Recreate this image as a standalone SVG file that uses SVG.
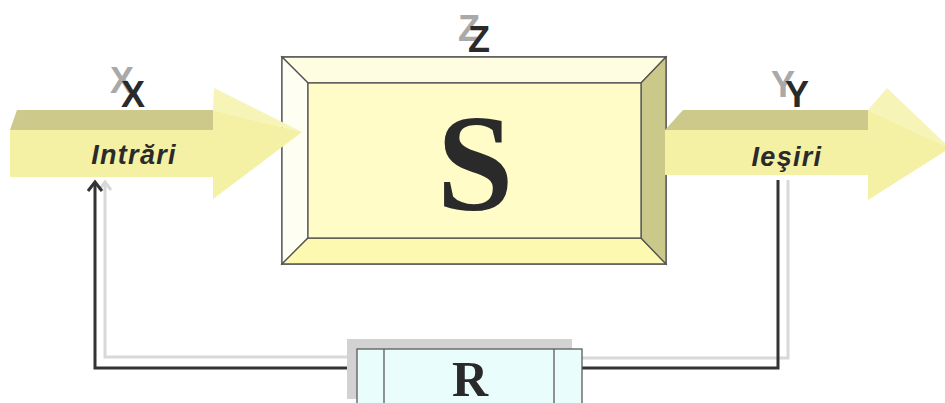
<svg xmlns="http://www.w3.org/2000/svg" width="945" height="403" viewBox="0 0 945 403">
<defs>
<style>
.front{fill:#f4f1a4}
.band{fill:#ccc98b}
.headtop{fill:#f6f4b6}
.lbl{font-family:"Liberation Sans",Arial,sans-serif;font-weight:bold;font-style:italic;font-size:27px;fill:#2a2a2a;letter-spacing:1.3px}
.var{font-family:"Liberation Sans",Arial,sans-serif;font-weight:bold;font-size:36px}
.dk{fill:#2a2a2a}
.lt{fill:#a9a9a9}
.dline{fill:none;stroke:#333;stroke-width:3}
.gline{fill:none;stroke:#d8d8d8;stroke-width:3}
.edge{stroke:#555;stroke-width:1.3}
</style>
</defs>
<rect width="945" height="403" fill="#fff"/>

<g id="connectors">
<polyline class="gline" points="347,357 105,357 105,182"/>
<polyline class="gline" points="99,190 105,182 111,190"/>
<polyline class="gline" points="582,358 788,358 788,180"/>
<polyline class="dline" points="357,368 95,368 95,182"/>
<polyline class="dline" points="88,191 95,182 102,191"/>
<polyline class="dline" points="582,368 778,368 778,180"/>
</g>

<g id="S">
<rect x="282" y="57" width="384" height="207" fill="#fffcc8" class="edge"/>
<polygon points="282,57 666,57 641,83 308,83" fill="#fefde2" class="edge"/>
<polygon points="282,57 308,83 308,238 282,264" fill="#fefef2" class="edge"/>
<polygon points="282,264 308,238 641,238 666,264" fill="#fef9b0" class="edge"/>
<polygon points="666,57 641,83 641,238 666,264" fill="#cbc98a" class="edge"/>
<rect x="308" y="83" width="333" height="155" fill="#fffcc8" class="edge"/>
<text x="475" y="210" text-anchor="middle" font-family="'Liberation Serif','Times New Roman',serif" font-weight="bold" font-size="138" fill="#2a2a2a">S</text>
</g>

<g id="Z">
<text x="469" y="41" text-anchor="middle" class="var lt">Z</text>
<text x="479" y="52" text-anchor="middle" class="var dk">Z</text>
</g>

<g id="input">
<polygon class="band" points="10,130 17,110 213,110 213,130"/>
<polygon class="front" points="10,130 213,130 213,110 302,132 213,199 213,177 10,177"/>
<polygon class="headtop" points="213,110 214,88 302,132"/>
<text x="134" y="164" text-anchor="middle" class="lbl">Intrări</text>
</g>

<g id="X">
<text x="122" y="93" text-anchor="middle" class="var lt">X</text>
<text x="133" y="107" text-anchor="middle" class="var dk">X</text>
</g>

<g id="output">
<polygon class="band" points="665,130 683,110 868,110 868,130"/>
<polygon class="front" points="665,130 868,130 868,110 950,148 868,200 868,175 665,175"/>
<polygon class="headtop" points="868,110 887,88 950,148"/>
<text x="787" y="166" text-anchor="middle" class="lbl">Ieşiri</text>
</g>

<g id="Y">
<text x="783" y="97" text-anchor="middle" class="var lt">Y</text>
<text x="797" y="107" text-anchor="middle" class="var dk">Y</text>
</g>

<g id="R">
<rect x="347" y="339" width="225" height="60" fill="#d2d2d2"/>
<rect x="357" y="349" width="225" height="60" fill="#eafdfd" stroke="#5a5a5a" stroke-width="1.3"/>
<line x1="384" y1="349" x2="384" y2="403" stroke="#5a5a5a" stroke-width="1.3"/>
<line x1="554" y1="349" x2="554" y2="403" stroke="#5a5a5a" stroke-width="1.3"/>
<text x="470" y="396" text-anchor="middle" font-family="'Liberation Serif','Times New Roman',serif" font-weight="bold" font-size="50" fill="#2a2a2a">R</text>
</g>
</svg>
